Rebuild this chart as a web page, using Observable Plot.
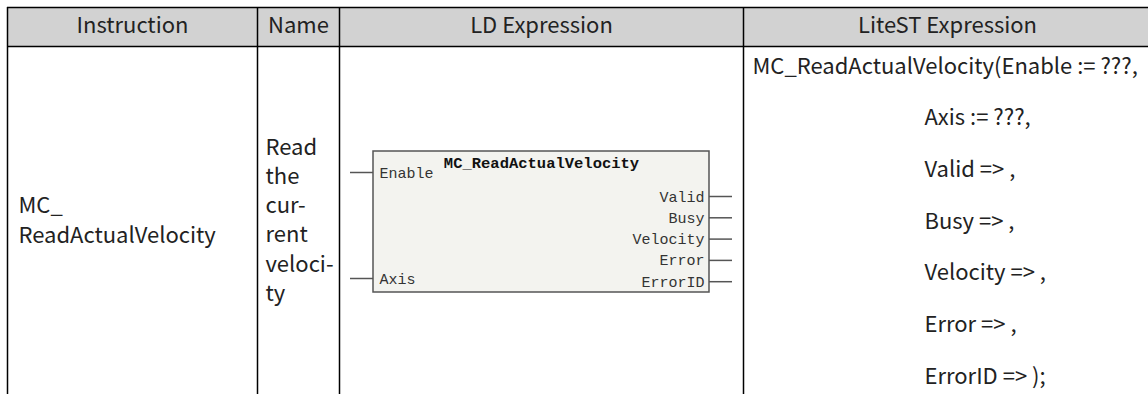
<!DOCTYPE html>
<html>
<head>
<meta charset="utf-8">
<script src="https://cdn.jsdelivr.net/npm/d3@7"></script>
<script src="https://cdn.jsdelivr.net/npm/@observablehq/plot@0.6"></script>
<style>
  html, body { margin: 0; padding: 0; background: #fff; }
  #chart svg { display: block; background: #fff; }
</style>
</head>
<body>
<div id="chart"></div>
<script>
// ---- content ----
const headers = ["Instruction", "Name", "LD Expression", "LiteST Expression"];
const instructionLines = ["MC_", "ReadActualVelocity"];
const nameLines = ["Read", "the", "cur-", "rent", "veloci-", "ty"];
const blockTitle = "MC_ReadActualVelocity";
const inputPins = ["Enable", "Axis"];
const outputPins = ["Valid", "Busy", "Velocity", "Error", "ErrorID"];
const stLines = [
  "MC_ReadActualVelocity(Enable := ???,",
  "Axis := ???,",
  "Valid => ,",
  "Busy => ,",
  "Velocity => ,",
  "Error => ,",
  "ErrorID => );"
];

// ---- layout ----
const W = 1148, H = 394;
const colEdges = [7, 257, 339, 743, 1151];
const tableTop = 7, headerBottom = 46;
const headerBaseline = 32;
const sansFont = "'Noto Sans CJK SC', 'Noto Sans', sans-serif";
const monoFont = "'Liberation Mono', 'DejaVu Sans Mono', monospace";
const textSize = 22;
const ink = "#222";

const instrX = 18, instrBase0 = 212, instrStep = 30;
const nameX = 265, nameBase0 = 154, nameStep = 29.3;
const stX0 = 752, stXIndent = 924, stBase0 = 73, stStep = 51.7;

const box = {x1: 373, x2: 709, y1: 151, y2: 292};
const inPinY = [172, 278];
const outPinY0 = 196, outPinStep = 21.3;
const pinLen = 23;

const headerCells = headers.map((h, i) => ({
  label: h,
  x: (colEdges[i] + colEdges[i + 1]) / 2
}));
const instrRows = instructionLines.map((t, i) => ({t, y: instrBase0 + i * instrStep}));
const nameRows = nameLines.map((t, i) => ({t, y: nameBase0 + i * nameStep}));
const stRows = stLines.map((t, i) => ({t, x: i === 0 ? stX0 : stXIndent, y: stBase0 + i * stStep}));
const inRows = inputPins.map((t, i) => ({t, y: inPinY[i]}));
const outRows = outputPins.map((t, i) => ({t, y: outPinY0 + i * outPinStep}));

const chart = Plot.plot({
  width: W,
  height: H,
  margin: 0,
  x: {domain: [0, W], range: [0, W], axis: null},
  y: {domain: [0, H], range: [0, H], axis: null},
  marks: [
    // header background
    Plot.rect([{}], {x1: colEdges[0], x2: colEdges[4], y1: tableTop, y2: headerBottom, fill: "#d2d2d2"}),
    // horizontal table lines
    Plot.ruleY([tableTop, headerBottom], {x1: colEdges[0], x2: colEdges[4], stroke: "#000", strokeWidth: 1.5}),
    // vertical table lines
    Plot.ruleX(colEdges, {y1: tableTop, y2: H + 2, stroke: "#000", strokeWidth: 1.5}),
    // header labels
    Plot.text(headerCells, {x: "x", y: headerBaseline, text: "label", lineAnchor: "bottom",
      fontFamily: sansFont, fontSize: textSize, fill: ink}),
    // instruction column
    Plot.text(instrRows, {x: instrX, y: "y", text: "t", textAnchor: "start", lineAnchor: "bottom",
      fontFamily: sansFont, fontSize: textSize, fill: ink}),
    // name column
    Plot.text(nameRows, {x: nameX, y: "y", text: "t", textAnchor: "start", lineAnchor: "bottom",
      fontFamily: sansFont, fontSize: textSize, fill: ink}),
    // LiteST column
    Plot.text(stRows, {x: "x", y: "y", text: "t", textAnchor: "start", lineAnchor: "bottom",
      fontFamily: sansFont, fontSize: textSize, fill: ink}),
    // LD function block
    Plot.rect([{}], {x1: box.x1, x2: box.x2, y1: box.y1, y2: box.y2, fill: "#f3f3ef", stroke: "#555", strokeWidth: 1.5}),
    Plot.ruleY(inRows, {y: "y", x1: box.x1 - pinLen, x2: box.x1, stroke: "#555", strokeWidth: 1.5}),
    Plot.ruleY(outRows, {y: "y", x1: box.x2, x2: box.x2 + pinLen, stroke: "#555", strokeWidth: 1.5}),
    Plot.text([blockTitle], {x: (box.x1 + box.x2) / 2, y: box.y1 + 16, text: d => d, lineAnchor: "bottom",
      fontFamily: monoFont, fontSize: 15.5, fontWeight: "bold", fill: "#111"}),
    Plot.text(inRows, {x: box.x1 + 6, y: d => d.y + 5, text: "t", textAnchor: "start", lineAnchor: "bottom",
      fontFamily: monoFont, fontSize: 15, fill: "#333"}),
    Plot.text(outRows, {x: box.x2 - 5, y: d => d.y + 5, text: "t", textAnchor: "end", lineAnchor: "bottom",
      fontFamily: monoFont, fontSize: 15, fill: "#333"})
  ]
});
document.getElementById("chart").appendChild(chart);
</script>
</body>
</html>
